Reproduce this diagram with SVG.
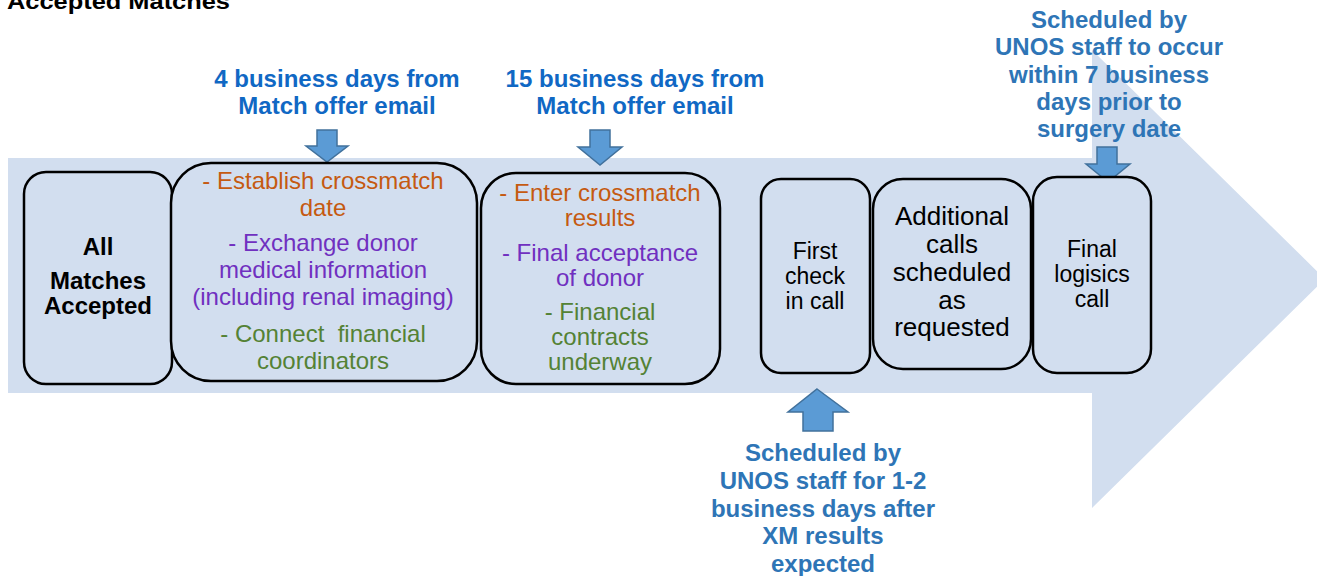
<svg xmlns="http://www.w3.org/2000/svg" width="1317" height="576" viewBox="0 0 1317 576">
<style>
.t{font-family:"Liberation Sans",Arial,sans-serif;text-anchor:middle}
.box{fill:#D2DEEF;stroke:#000;stroke-width:2.5}
.blk{fill:#5B9BD5;stroke:#41719C;stroke-width:1.5}
.lab{font-weight:bold;font-size:24px;fill:#2E75B6}
.lab2{font-weight:bold;font-size:24px;fill:#1068C4}
.or{fill:#C55A11}.pu{fill:#7030C0}.gr{fill:#548235}
</style>
<rect width="1317" height="576" fill="#fff"/>
<text x="7" y="9" font-family="Liberation Sans,Arial,sans-serif" font-weight="bold" font-size="22" fill="#000" textLength="223" lengthAdjust="spacingAndGlyphs">Accepted Matches</text>
<g id="flow-arrow">
<polygon points="8,158 1092,158 1092,50 1325,279 1092,508 1092,393 8,393" fill="#D2DEEF"/>
</g>
<g id="connectors">
<polygon class="blk" points="317,130 337,130 337,146 348,146 327,162 306,146 317,146"/>
<polygon class="blk" points="590,130 610,130 610,147 622,147 600,165 578,147 590,147"/>
<polygon class="blk" points="1097,147 1117,147 1117,164 1130,164 1108,182 1086,164 1097,164"/>
<polygon class="blk" points="817,389 848,412 833,412 833,431 803,431 803,412 788,412"/>
</g>
<g id="label-4days" class="t lab2">
<text x="337" y="87">4 business days from</text>
<text x="337" y="114">Match offer email</text>
</g>
<g id="label-15days" class="t lab2">
<text x="635" y="87">15 business days from</text>
<text x="635" y="114">Match offer email</text>
</g>
<g id="label-final" class="t lab">
<text x="1109" y="28">Scheduled by</text>
<text x="1109" y="55">UNOS staff to occur</text>
<text x="1109" y="83">within 7 business</text>
<text x="1109" y="110">days prior to</text>
<text x="1109" y="137">surgery date</text>
</g>
<g id="label-first" class="t lab">
<text x="823" y="461">Scheduled by</text>
<text x="823" y="489">UNOS staff for 1-2</text>
<text x="823" y="517">business days after</text>
<text x="823" y="544">XM results</text>
<text x="823" y="572">expected</text>
</g>
<g id="node-all">
<rect class="box" x="24" y="172" width="148" height="212" rx="22"/>
<g class="t" font-weight="bold" font-size="24">
<text x="98" y="255">All</text>
<text x="98" y="289">Matches</text>
<text x="98" y="314">Accepted</text>
</g>
</g>
<g id="node-step1">
<rect class="box" x="171" y="163" width="306" height="218" rx="40"/>
<g class="t" font-size="24">
<text class="or" x="323" y="189">- Establish crossmatch</text>
<text class="or" x="323" y="216">date</text>
<text class="pu" x="323" y="251">- Exchange donor</text>
<text class="pu" x="323" y="278">medical information</text>
<text class="pu" x="323" y="305">(including renal imaging)</text>
<text class="gr" x="323" y="342" style="white-space:pre">- Connect  financial</text>
<text class="gr" x="323" y="369">coordinators</text>
</g>
</g>
<g id="node-step2">
<rect class="box" x="481" y="173" width="239" height="211" rx="35"/>
<g class="t" font-size="24">
<text class="or" x="600" y="201">- Enter crossmatch</text>
<text class="or" x="600" y="226">results</text>
<text class="pu" x="600" y="261">- Final acceptance</text>
<text class="pu" x="600" y="286">of donor</text>
<text class="gr" x="600" y="320">- Financial</text>
<text class="gr" x="600" y="345">contracts</text>
<text class="gr" x="600" y="370">underway</text>
</g>
</g>
<g id="node-first">
<rect class="box" x="761" y="179" width="109" height="194" rx="20"/>
<g class="t" font-size="23">
<text x="815" y="259">First</text>
<text x="815" y="284">check</text>
<text x="815" y="309">in call</text>
</g>
</g>
<g id="node-additional">
<rect class="box" x="873" y="179" width="158" height="190" rx="30"/>
<g class="t" font-size="26">
<text x="952" y="225">Additional</text>
<text x="952" y="253">calls</text>
<text x="952" y="281">scheduled</text>
<text x="952" y="309">as</text>
<text x="952" y="336">requested</text>
</g>
</g>
<g id="node-final">
<rect class="box" x="1033" y="177" width="118" height="196" rx="24"/>
<g class="t" font-size="23">
<text x="1092" y="257">Final</text>
<text x="1092" y="282">logisics</text>
<text x="1092" y="307">call</text>
</g>
</g>
</svg>
